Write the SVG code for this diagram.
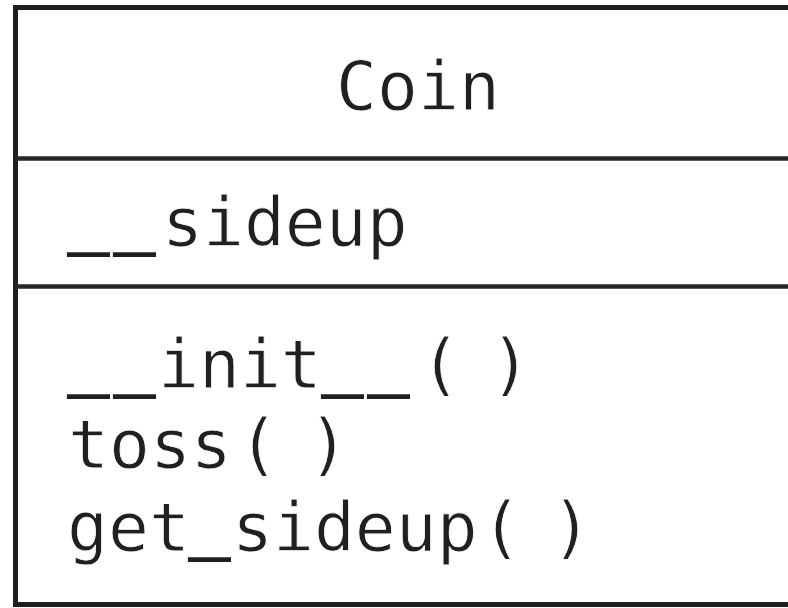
<svg xmlns="http://www.w3.org/2000/svg" width="788" height="608" viewBox="0 0 788 608">
  <style>
    .frame { fill: none; stroke: #1e1e1e; stroke-width: 5; }
    .rule { stroke: #262626; stroke-width: 4.5; }
    .txt { font-family: "DejaVu Sans Mono", "Liberation Mono", monospace; font-size: 68px; fill: #202020; stroke: #ffffff; stroke-width: 0.8; paint-order: fill; }
    /* underscores: heavier and set slightly higher */
    .us { letter-spacing: 5px; stroke: #202020; stroke-width: 2.2; }
    .us1 { stroke: #202020; stroke-width: 2.2; }
    .par { letter-spacing: -6px; }
  </style>
  <rect width="788" height="608" fill="#ffffff"/>
  <g id="coin-class">
    <!-- outer frame (right side runs past the canvas) -->
    <path class="frame" d="M800 7.5 H15.5 V604.5 H800"/>
    <line class="rule" x1="15" y1="158.5" x2="800" y2="158.5"/>
    <line class="rule" x1="15" y1="286.5" x2="800" y2="286.5"/>
    <text class="txt" x="418" y="110" text-anchor="middle">Coin</text>
    <!-- attribute compartment -->
    <text class="txt" y="246"><tspan class="us" x="68" y="240">__</tspan><tspan x="162" y="246">sideup</tspan></text>
    <!-- operation compartment -->
    <text class="txt" y="388"><tspan class="us" x="68" y="382">__</tspan><tspan x="158" y="388">init</tspan><tspan class="us" x="322" y="382">__</tspan><tspan class="par" x="420" y="388">( )</tspan></text>
    <text class="txt" y="468"><tspan x="68">toss</tspan><tspan class="par" x="238">( )</tspan></text>
    <text class="txt" y="551"><tspan x="67">get</tspan><tspan class="us1" x="189" y="545">_</tspan><tspan x="232" y="551">sideup</tspan><tspan class="par" x="481">( )</tspan></text>
  </g>
</svg>
